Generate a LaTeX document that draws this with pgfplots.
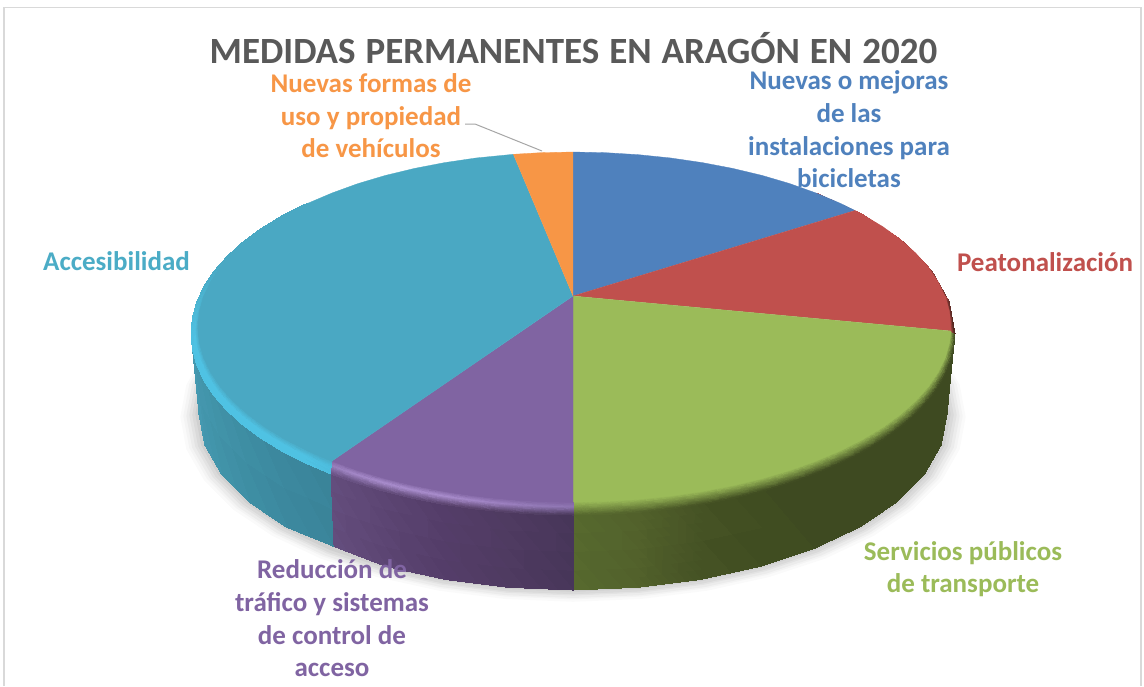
\documentclass[border=0pt]{standalone}
\usepackage{pgfplots}
\usepackage{pgfplotstable}
\usepackage{fontspec}
\setmainfont{Carlito}
\pgfplotsset{compat=1.18}
\definecolor{cBlue}{HTML}{4F81BD}
\definecolor{cRed}{HTML}{C0504D}
\definecolor{cGreen}{HTML}{9BBB59}
\definecolor{cPurple}{HTML}{8064A2}
\definecolor{cCyan}{HTML}{4AA8C3}
\definecolor{cCyanT}{HTML}{4BACC6}
\definecolor{cOrange}{HTML}{F79646}
\definecolor{cTitle}{HTML}{595959}
\pgfplotstableread{
x y
924.4 353.8
941.3 383.4
947 414
941.3 444.6
924.4 474.2
896.9 502
859.5 527.1
813.4 548.8
760 566.4
700.9 579.4
637.9 587.3
573 590
508.1 587.3
445.1 579.4
386 566.4
332.6 548.8
286.5 527.1
249.1 502
221.6 474.2
204.7 444.6
199 414
204.7 383.4
221.6 353.8
}\lowerrim
\newcommand{\lab}[4]{\node[text=#1,font=\fontsize{27}{27}\selectfont\bfseries,anchor=base,inner sep=0pt] at (axis cs:#2,#3) {#4};}
\begin{document}
\begin{tikzpicture}
\begin{axis}[
  scale only axis, width=1144pt, height=686pt,
  xmin=0, xmax=1144, ymin=0, ymax=686, y dir=reverse,
  hide axis, clip=true,
]
% page
\addplot[fill=white, draw=none] coordinates {(0,0) (1144,0) (1144,686) (0,686)};
% frame
\addplot[draw=black!15, line width=1.2pt] coordinates {(4,686) (4,7.5) (1141,7.5) (1141,686)};
% soft shadow
\addplot[fill=black, draw=none, opacity=.02] table[x expr={573+(\thisrow{x}-573)*1.05}, y expr={417+(\thisrow{y}-414)*1.05}] {\lowerrim};
\addplot[fill=black, draw=none, opacity=.025] table[x expr={573+(\thisrow{x}-573)*1.042}, y expr={416+(\thisrow{y}-414)*1.042}] {\lowerrim};
\addplot[fill=black, draw=none, opacity=.03] table[x expr={573+(\thisrow{x}-573)*1.034}, y expr={416+(\thisrow{y}-414)*1.034}] {\lowerrim};
\addplot[fill=black, draw=none, opacity=.035] table[x expr={573+(\thisrow{x}-573)*1.026}, y expr={415+(\thisrow{y}-414)*1.026}] {\lowerrim};
\addplot[fill=black, draw=none, opacity=.04] table[x expr={573+(\thisrow{x}-573)*1.018}, y expr={415+(\thisrow{y}-414)*1.018}] {\lowerrim};
\addplot[fill=black, draw=none, opacity=.045] table[x expr={573+(\thisrow{x}-573)*1.01}, y expr={414+(\thisrow{y}-414)*1.01}] {\lowerrim};
% green wall
\addplot[surf, shader=interp, mesh/color input=explicit, mesh/rows=2] table[meta=c] {
x y c
955 333.5 rgb=0.245,0.29,0.13
949.2 365 rgb=0.245,0.29,0.13
932 395.6 rgb=0.245,0.29,0.13
903.8 424.25 rgb=0.245,0.29,0.13
865.6 450.2 rgb=0.245,0.29,0.13
818.5 472.5 rgb=0.245,0.29,0.13
764 490.7 rgb=0.25,0.30,0.13
703.6 504.1 rgb=0.27,0.32,0.14
639.3 512.2 rgb=0.32,0.38,0.17
573 515 rgb=0.34,0.41,0.18
947 414 rgb=0.245,0.29,0.13
941.3 444.6 rgb=0.245,0.29,0.13
924.4 474.2 rgb=0.245,0.29,0.13
896.9 502 rgb=0.245,0.29,0.13
859.5 527.1 rgb=0.245,0.29,0.13
813.4 548.8 rgb=0.245,0.29,0.13
760 566.4 rgb=0.25,0.30,0.13
700.9 579.4 rgb=0.27,0.32,0.14
637.9 587.3 rgb=0.32,0.38,0.17
573 590 rgb=0.34,0.41,0.18
};
% purple wall
\addplot[surf, shader=interp, mesh/color input=explicit, mesh/rows=2] table[meta=c] {
x y c
573 515 rgb=0.28,0.21,0.35
506.7 512.2 rgb=0.31,0.23,0.38
442.4 504.1 rgb=0.33,0.24,0.41
382 490.7 rgb=0.36,0.27,0.45
330 473.6 rgb=0.39,0.30,0.49
573 590 rgb=0.28,0.21,0.35
508.1 587.3 rgb=0.31,0.23,0.38
445.1 579.4 rgb=0.33,0.24,0.41
386 566.4 rgb=0.36,0.27,0.45
333 546 rgb=0.39,0.30,0.49
};
% cyan wall
\addplot[surf, shader=interp, mesh/color input=explicit, mesh/rows=2] table[meta=c] {
x y c
330 473.6 rgb=0.227,0.518,0.60
280.4 450.2 rgb=0.235,0.535,0.62
242.2 424.25 rgb=0.245,0.555,0.64
214 395.6 rgb=0.255,0.575,0.66
196.8 365 rgb=0.265,0.59,0.68
191 333.5 rgb=0.27,0.60,0.69
333 546 rgb=0.227,0.518,0.60
286.5 527.1 rgb=0.235,0.535,0.62
249.1 502 rgb=0.245,0.555,0.64
221.6 474.2 rgb=0.255,0.575,0.66
204.7 444.6 rgb=0.265,0.59,0.68
199 414 rgb=0.27,0.60,0.69
};
% green bevel
\addplot[surf, shader=interp, mesh/color input=explicit, mesh/rows=2] table[meta=c] {
x y c
951 331 rgb=0.608,0.733,0.349
949.6 342.3 rgb=0.608,0.733,0.349
945.3 357.4 rgb=0.608,0.733,0.349
938.1 372.3 rgb=0.608,0.733,0.349
928.2 386.9 rgb=0.608,0.733,0.349
915.6 401 rgb=0.608,0.733,0.349
900.4 414.5 rgb=0.608,0.733,0.349
882.7 427.4 rgb=0.608,0.733,0.349
862.5 439.5 rgb=0.608,0.733,0.349
840.3 450.7 rgb=0.608,0.733,0.349
816 461 rgb=0.608,0.733,0.349
789.8 470.4 rgb=0.608,0.733,0.349
762 478.6 rgb=0.608,0.733,0.349
732.7 485.6 rgb=0.608,0.733,0.349
702.3 491.4 rgb=0.608,0.733,0.349
670.8 496 rgb=0.608,0.733,0.349
638.6 499.3 rgb=0.608,0.733,0.349
605.9 501.3 rgb=0.608,0.733,0.349
573 502 rgb=0.608,0.733,0.349
955 333.5 rgb=0.245,0.29,0.13
953.5 349.3 rgb=0.245,0.29,0.13
949.2 365 rgb=0.245,0.29,0.13
942 380.5 rgb=0.245,0.29,0.13
932 395.6 rgb=0.245,0.29,0.13
919.2 410.2 rgb=0.245,0.29,0.13
903.8 424.25 rgb=0.245,0.29,0.13
885.9 437.6 rgb=0.245,0.29,0.13
865.6 450.2 rgb=0.245,0.29,0.13
843.1 461.8 rgb=0.245,0.29,0.13
818.5 472.5 rgb=0.245,0.29,0.13
792.1 482.2 rgb=0.245,0.29,0.13
764 490.7 rgb=0.25,0.30,0.13
734.4 498 rgb=0.26,0.31,0.135
703.6 504.1 rgb=0.27,0.32,0.14
671.9 508.8 rgb=0.295,0.35,0.155
639.3 512.2 rgb=0.32,0.38,0.17
606.3 514.3 rgb=0.33,0.395,0.175
573 515 rgb=0.34,0.41,0.18
};
% purple bevel
\addplot[surf, shader=interp, mesh/color input=explicit, mesh/rows=3] table[meta=c] {
x y c
573 502 rgb=0.502,0.392,0.635
540.3 501.3 rgb=0.502,0.392,0.635
507.9 499.3 rgb=0.502,0.392,0.635
475.9 496 rgb=0.502,0.392,0.635
444.7 491.4 rgb=0.502,0.392,0.635
414.5 485.6 rgb=0.502,0.392,0.635
385.5 478.6 rgb=0.502,0.392,0.635
357.9 470.4 rgb=0.502,0.392,0.635
332 461 rgb=0.502,0.392,0.635
573 507.2 rgb=0.56,0.46,0.70
540.1 506.5 rgb=0.58,0.48,0.72
507.4 504.4 rgb=0.61,0.50,0.75
475.2 501.1 rgb=0.64,0.53,0.78
443.8 496.5 rgb=0.66,0.55,0.80
413.3 490.6 rgb=0.66,0.55,0.80
384.2 483.4 rgb=0.66,0.55,0.80
356.3 475.1 rgb=0.64,0.53,0.78
331.2 466.1 rgb=0.60,0.50,0.74
573 515 rgb=0.30,0.23,0.37
539.7 514.3 rgb=0.31,0.24,0.38
506.7 512.2 rgb=0.33,0.25,0.40
474.1 508.8 rgb=0.35,0.26,0.42
442.4 504.1 rgb=0.36,0.27,0.44
411.6 498 rgb=0.38,0.29,0.47
382 490.7 rgb=0.39,0.30,0.48
353.9 482.2 rgb=0.40,0.31,0.50
330 473.6 rgb=0.42,0.32,0.52
};
% cyan bevel
\addplot[surf, shader=interp, mesh/color input=explicit, mesh/rows=3] table[meta=c] {
x y c
332 461 rgb=0.29,0.66,0.765
307.8 450.7 rgb=0.29,0.66,0.765
285.7 439.5 rgb=0.29,0.66,0.765
265.8 427.4 rgb=0.29,0.66,0.765
248.2 414.5 rgb=0.29,0.66,0.765
233.1 401 rgb=0.29,0.66,0.765
220.6 386.9 rgb=0.29,0.66,0.765
210.8 372.3 rgb=0.29,0.66,0.765
203.7 357.4 rgb=0.29,0.66,0.765
199.4 342.3 rgb=0.29,0.66,0.765
198 327 rgb=0.29,0.66,0.765
199.4 311.7 rgb=0.29,0.66,0.765
203.7 296.6 rgb=0.29,0.66,0.765
210.8 281.7 rgb=0.29,0.66,0.765
220.6 267.1 rgb=0.29,0.66,0.765
233.1 253 rgb=0.29,0.66,0.765
248.2 239.5 rgb=0.29,0.66,0.765
265.8 226.6 rgb=0.29,0.66,0.765
285.7 214.5 rgb=0.29,0.66,0.765
307.8 203.3 rgb=0.29,0.66,0.765
331 467.3 rgb=0.30,0.74,0.87
305.4 456.3 rgb=0.31,0.76,0.89
283.1 444.9 rgb=0.31,0.76,0.89
263 432.5 rgb=0.31,0.76,0.89
245.2 419.4 rgb=0.31,0.76,0.89
230 405.6 rgb=0.31,0.76,0.89
217.3 391.3 rgb=0.31,0.76,0.89
207.4 376.4 rgb=0.31,0.76,0.89
200.3 361.2 rgb=0.31,0.76,0.89
196 345.8 rgb=0.31,0.76,0.89
194.5 330.3 rgb=0.31,0.75,0.88
196 314.7 rgb=0.30,0.73,0.85
200.3 299.3 rgb=0.30,0.71,0.82
207.4 284.1 rgb=0.29,0.69,0.80
217.3 269.3 rgb=0.29,0.67,0.78
230 254.9 rgb=0.29,0.66,0.765
245.2 241.1 rgb=0.29,0.66,0.765
263 228 rgb=0.29,0.66,0.765
283.1 215.7 rgb=0.29,0.66,0.765
305.4 204.3 rgb=0.29,0.66,0.765
330 473.6 rgb=0.30,0.74,0.87
302.9 461.8 rgb=0.31,0.76,0.89
280.4 450.2 rgb=0.31,0.76,0.89
260.1 437.6 rgb=0.31,0.76,0.89
242.2 424.25 rgb=0.31,0.76,0.89
226.8 410.2 rgb=0.31,0.76,0.89
214 395.6 rgb=0.31,0.76,0.89
204 380.5 rgb=0.31,0.76,0.89
196.8 365 rgb=0.31,0.76,0.89
192.5 349.3 rgb=0.31,0.76,0.89
191 333.5 rgb=0.31,0.75,0.88
192.5 317.7 rgb=0.30,0.73,0.85
196.8 302 rgb=0.30,0.71,0.82
204 286.5 rgb=0.29,0.69,0.80
214 271.4 rgb=0.29,0.67,0.78
226.8 256.8 rgb=0.29,0.66,0.765
242.2 242.75 rgb=0.29,0.66,0.765
260.1 229.4 rgb=0.29,0.66,0.765
280.4 216.8 rgb=0.29,0.66,0.765
302.9 205.2 rgb=0.29,0.66,0.765
};
% red bevel
\addplot[surf, shader=interp, mesh/color input=explicit, mesh/rows=2] table[meta=c] {
x y c
816 193 rgb=0.753,0.314,0.302
862.5 214.5 rgb=0.753,0.314,0.302
900.4 239.5 rgb=0.753,0.314,0.302
928.2 267.1 rgb=0.753,0.314,0.302
945.3 296.6 rgb=0.753,0.314,0.302
951 331 rgb=0.753,0.314,0.302
818.5 194.5 rgb=0.75,0.31,0.30
865.6 216.8 rgb=0.70,0.30,0.28
903.8 242.75 rgb=0.60,0.25,0.24
932 271.4 rgb=0.50,0.22,0.20
949.2 302 rgb=0.40,0.18,0.16
955 333.5 rgb=0.30,0.15,0.12
};
% top face
\addplot[fill=cBlue, draw=cBlue, line width=.3pt] coordinates {(573,296) (573,152) (605.9,152.7) (638.6,154.7) (670.8,158) (702.3,162.6) (732.7,168.4) (762,175.4) (789.8,183.6) (816,193) (840.3,203.3) (855,210.5)};
\addplot[fill=cRed, draw=cRed, line width=.3pt] coordinates {(573,296) (855,210.5) (862.5,214.5) (882.7,226.6) (900.4,239.5) (915.6,253) (928.2,267.1) (938.1,281.7) (945.3,296.6) (949.6,311.7) (951,331)};
\addplot[fill=cGreen, draw=cGreen, line width=.3pt] coordinates {(573,296) (951,331) (949.6,342.3) (945.3,357.4) (938.1,372.3) (928.2,386.9) (915.6,401) (900.4,414.5) (882.7,427.4) (862.5,439.5) (840.3,450.7) (816,461) (789.8,470.4) (762,478.6) (732.7,485.6) (702.3,491.4) (670.8,496) (638.6,499.3) (605.9,501.3) (573,502)};
\addplot[fill=cPurple, draw=cPurple, line width=.3pt] coordinates {(573,296) (573,502) (540.3,501.3) (507.9,499.3) (475.9,496) (444.7,491.4) (414.5,485.6) (385.5,478.6) (357.9,470.4) (332,461)};
\addplot[fill=cCyan, draw=cCyan, line width=.3pt] coordinates {(573,296) (332,461) (307.8,450.7) (285.7,439.5) (265.8,427.4) (248.2,414.5) (233.1,401) (220.6,386.9) (210.8,372.3) (203.7,357.4) (199.4,342.3) (198,327) (199.4,311.7) (203.7,296.6) (210.8,281.7) (220.6,267.1) (233.1,253) (248.2,239.5) (265.8,226.6) (285.7,214.5) (307.8,203.3) (332,193) (357.9,183.6) (385.5,175.4) (414.5,168.4) (444.7,162.6) (475.9,158) (513.4,154.3)};
\addplot[fill=cOrange, draw=cOrange, line width=.3pt] coordinates {(573,296) (513.4,154.3) (540.3,152.7) (573,152)};
% leader
\addplot[draw=black!35, line width=1pt] coordinates {(465,124) (475,124) (542,151)};
% title
\node[text=cTitle, font=\fontsize{37}{37}\selectfont\bfseries, anchor=base, inner sep=0pt] at (axis cs:573.5,63) {\spaceskip=10pt\relax MEDIDAS PERMANENTES EN ARAGÓN EN 2020};
% labels
\lab{cOrange}{371}{92}{Nuevas formas de}
\lab{cOrange}{371}{125}{uso y propiedad}
\lab{cOrange}{371}{157}{de vehículos}
\lab{cBlue}{849}{89.5}{Nuevas o mejoras}
\lab{cBlue}{849}{122.5}{de las}
\lab{cBlue}{849}{155}{instalaciones para}
\lab{cBlue}{849}{187}{bicicletas}
\lab{cRed}{1045}{271}{Peatonalización}
\lab{cCyanT}{116.5}{270}{Accesibilidad}
\lab{cGreen}{963}{560}{Servicios públicos}
\lab{cGreen}{963}{592}{de transporte}
\lab{cPurple}{332}{578.5}{Reducción de}
\lab{cPurple}{332}{611}{tráfico y sistemas}
\lab{cPurple}{332}{644}{de control de}
\lab{cPurple}{332}{676}{acceso}
\end{axis}
\end{tikzpicture}
\end{document}
